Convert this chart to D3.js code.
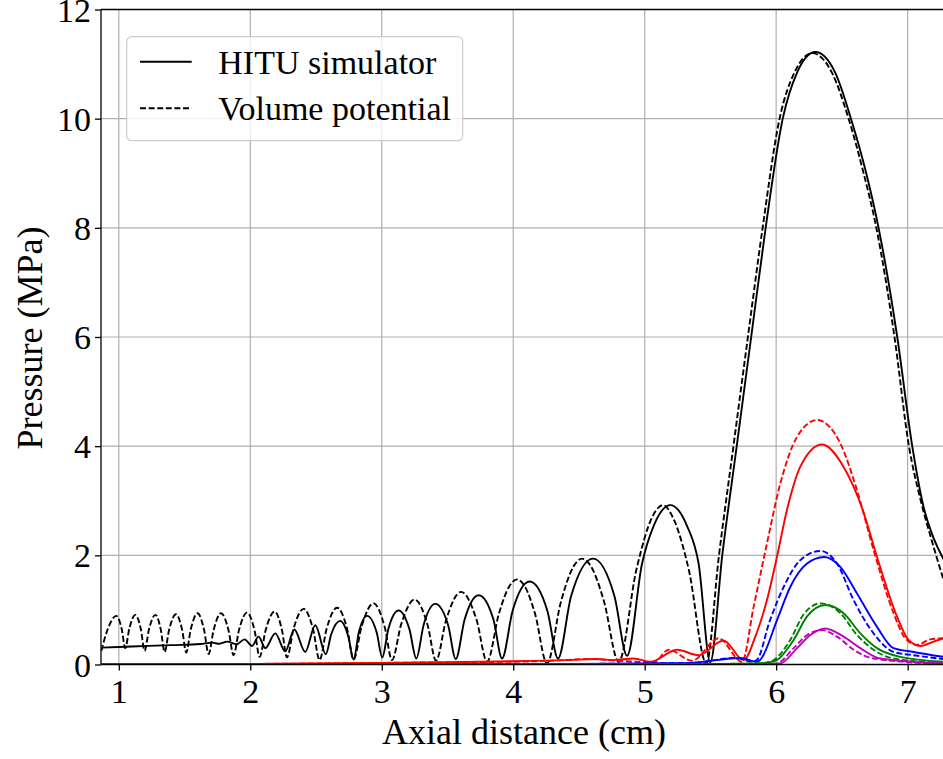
<!DOCTYPE html>
<html><head><meta charset="utf-8">
<script src="https://cdn.jsdelivr.net/npm/d3@7"></script>
<style>html,body{margin:0;padding:0;background:#fff;overflow:hidden}svg{display:block}</style>
</head><body>
<svg id="chart" width="943" height="759"></svg>
<script>
// ---- data (x in cm, y in MPa) ----
const xTicks = [1,2,3,4,5,6,7];
const yTicks = [0,2,4,6,8,10,12];
const legendLabels = ["HITU simulator","Volume potential"];

const blackSolidX = [0.867,1.10,1.40,1.62,1.711,1.764,1.825,1.894,1.957,2.013,2.063,2.114,2.190,2.266,2.335,2.418,2.494,2.575,
 2.615,2.684,2.745,2.786, 2.825,2.888,2.962,3.004, 3.05,3.128,3.21,3.263, 3.318,3.407,3.505,3.563, 3.63,3.737,3.85,3.915,
 3.995,4.125,4.26,4.341, 4.44,4.607,4.77,4.866, 4.98,5.07,5.195,5.32,5.41,5.499,
 5.59,5.70,5.81,5.92,6.05,6.16,6.298,6.45,6.569,6.68,6.779,6.921,7.035,7.12,7.2,7.28];
const blackSolidY = [0.31,0.33,0.355,0.375,0.40,0.38,0.42,0.37,0.46,0.34,0.51,0.30,0.57,0.24,0.64,0.23,0.72,0.19,
 0.55,0.80,0.52,0.09, 0.58,0.89,0.58,0.13, 0.65,0.99,0.65,0.11, 0.72,1.11,0.72,0.10, 0.82,1.27,0.82,0.11,
 0.98,1.52,0.98,0.11, 1.25,1.94,1.25,0.16, 1.85,2.55,2.92,2.55,1.85,0.04,
 2.0,4.0,6.0,8.0,10.0,10.85,11.22,10.84,10.0,9.05,8.0,6.0,4.0,2.9,2.3,1.9];

const blackDashX = [0.867,0.913,0.981,1.022,1.049,1.080,1.126,1.168,1.196,1.229,1.278,1.320,1.348,1.383,1.435,1.482,1.513,
 1.547,1.599,1.649,1.683,1.721,1.777,1.835,1.873,1.914,1.975,2.033,2.071,2.117,2.185,2.241,2.279,2.330,2.406,2.479,2.527,
 2.580,2.660,2.736,2.786,2.847,2.938,3.022,3.078,3.147,3.250,3.348,3.413,3.489,3.603,3.722,3.801,
 3.892,3.972,4.029,4.086,4.166,4.257,4.363,4.457,4.523,4.593,4.690,4.802,4.937,5.055,5.139,5.221,5.336,5.469,
 5.565,5.675,5.785,5.897,6.026,6.14,6.275,6.425,6.551,6.66,6.762,6.90,7.01,7.1,7.18,7.262,7.28];
const blackDashY = [0.25,0.63,0.89,0.65,0.30,0.66,0.91,0.64,0.25,0.64,0.91,0.63,0.23,0.64,0.92,0.63,0.22,
 0.64,0.94,0.63,0.19,0.63,0.94,0.62,0.17,0.63,0.95,0.62,0.14,0.63,0.97,0.63,0.13,0.66,1.02,0.63,0.08,
 0.65,1.04,0.66,0.09,0.70,1.12,0.69,0.08,0.73,1.19,0.73,0.07,0.81,1.33,0.81,0.05,
 0.94,1.44,1.56,1.44,0.93,0.02,1.15,1.79,1.94,1.79,1.16,0.05,1.74,2.69,2.92,2.66,1.73,0.02,
 2.0,4.0,6.0,8.0,10.0,10.85,11.2,10.84,10.0,9.05,8.0,6.0,4.0,3.0,2.3,1.64,1.5];

const redSolidX = [0.867,2.0,3.0,3.5,4.0,4.4,4.637,4.764,4.916,5.043,5.246,5.410,5.600,5.752,5.84,5.930,6.006,6.082,6.183,6.349,6.513,6.659,6.767,6.919,7.007,7.096,7.197,7.271];
const redSolidY = [0.0,0.01,0.03,0.04,0.06,0.08,0.10,0.08,0.11,0.05,0.27,0.17,0.44,0.08,0.50,1.18,1.97,2.83,3.62,4.03,3.62,2.83,1.97,0.88,0.45,0.34,0.42,0.48];
const redDashX = [0.867,2.0,3.0,3.5,4.0,4.3,4.586,4.80,5.068,5.182,5.360,5.562,5.740,5.829,5.930,6.032,6.159,6.311,6.488,6.615,6.741,6.893,6.982,7.071,7.172,7.271];
const redDashY = [0.0,0.01,0.03,0.04,0.05,0.07,0.10,0.07,0.04,0.27,0.07,0.48,0.05,1.06,2.22,3.32,4.17,4.48,4.05,3.19,2.10,0.94,0.48,0.36,0.46,0.48];

const blueSolidX = [0.867,4.0,5.0,5.347,5.727,5.855,5.877,6.006,6.107,6.235,6.366,6.488,6.615,6.767,6.893,7.045,7.271];
const blueSolidY = [0.0,0.005,0.02,0.03,0.12,0.05,0.08,0.81,1.42,1.85,1.97,1.79,1.30,0.69,0.30,0.23,0.14];
const blueDashX = [0.867,4.0,5.0,5.347,5.702,5.816,5.852,5.953,6.057,6.183,6.336,6.463,6.589,6.741,6.893,7.045,7.271];
const blueDashY = [0.0,0.005,0.02,0.03,0.12,0.05,0.08,0.81,1.42,1.91,2.08,1.85,1.18,0.57,0.23,0.17,0.10];

const greenSolidX = [0.867,5.0,5.85,5.95,6.006,6.133,6.235,6.374,6.513,6.640,6.767,6.944,7.271];
const greenSolidY = [0.0,0.0,0.02,0.04,0.08,0.45,0.88,1.09,0.94,0.57,0.30,0.14,0.05];
const greenDashX = [0.867,5.0,5.85,5.93,5.981,6.107,6.209,6.336,6.488,6.615,6.741,6.893,7.271];
const greenDashY = [0.0,0.0,0.02,0.04,0.08,0.45,0.92,1.12,0.94,0.54,0.27,0.11,0.03];

const magSolidX = [0.867,5.0,5.9,6.032,6.159,6.260,6.374,6.513,6.640,6.792,7.271];
const magSolidY = [0.0,0.0,0.005,0.02,0.30,0.54,0.66,0.51,0.30,0.11,0.02];
const magDashX = [0.867,5.0,5.9,6.006,6.133,6.235,6.349,6.463,6.589,6.741,7.271];
const magDashY = [0.0,0.0,0.005,0.02,0.30,0.54,0.63,0.51,0.27,0.11,0.01];

const seriesColors = ["#000000","#ff0000","#0000ff","#008000","#bf00bf"];

// ---- layout ----
const svg = d3.select("#chart");
const W = 943;
const mLeft = 101, mTop = 9.5, mBottom = 664.5;
const x = d3.scaleLinear().domain([0.8645, 7.35]).range([mLeft, mLeft + (7.35 - 0.8645) * 131.47]);
const y = d3.scaleLinear().domain([0, 12]).range([mBottom, mTop]);
const font = "'Liberation Serif','Times New Roman',serif";

// grid
const g = svg.append("g");
g.selectAll(".vg").data(xTicks).join("line")
  .attr("x1", d => x(d)).attr("x2", d => x(d)).attr("y1", mTop).attr("y2", mBottom)
  .attr("stroke", "#b0b0b0").attr("stroke-width", 1.2);
g.selectAll(".hg").data(yTicks).join("line")
  .attr("x1", mLeft).attr("x2", W).attr("y1", d => y(d)).attr("y2", d => y(d))
  .attr("stroke", "#b0b0b0").attr("stroke-width", 1.2);

// lines
svg.append("defs").append("clipPath").attr("id", "clip")
  .append("rect").attr("x", mLeft).attr("y", mTop).attr("width", W - mLeft).attr("height", mBottom - mTop);
const line = d3.line().x(d => x(d[0])).y(d => y(d[1])).curve(d3.curveMonotoneX);
const zip = (a, b) => a.map((v, i) => [v, b[i]]);
const series = [
  [blackSolidX, blackSolidY, 0, false], [blackDashX, blackDashY, 0, true],
  [redSolidX, redSolidY, 1, false], [redDashX, redDashY, 1, true],
  [blueSolidX, blueSolidY, 2, false], [blueDashX, blueDashY, 2, true],
  [greenSolidX, greenSolidY, 3, false], [greenDashX, greenDashY, 3, true],
  [magSolidX, magSolidY, 4, false], [magDashX, magDashY, 4, true]
];
const lg = svg.append("g").attr("clip-path", "url(#clip)");
series.forEach(([sx, sy, ci, dashed]) => {
  lg.append("path").attr("d", line(zip(sx, sy)))
    .attr("fill", "none").attr("stroke", seriesColors[ci]).attr("stroke-width", 1.9)
    .attr("stroke-linejoin", "round")
    .attr("stroke-dasharray", dashed ? "6,2.6" : null);
});

// axes
const xAxis = d3.axisBottom(x).tickValues(xTicks).tickSize(6).tickPadding(8).tickFormat(d3.format("d"));
const yAxis = d3.axisLeft(y).tickValues(yTicks).tickSize(6).tickPadding(8).tickFormat(d3.format("d"));
const gx = svg.append("g").attr("transform", `translate(0,${mBottom})`).call(xAxis);
const gy = svg.append("g").attr("transform", `translate(${mLeft},0)`).call(yAxis);
[gx, gy].forEach(a => {
  a.select(".domain").remove();
  a.selectAll("line").attr("stroke", "#000").attr("stroke-width", 1.3);
  a.selectAll("text").attr("font-family", font).attr("font-size", 34).attr("fill", "#000");
});
gx.selectAll("text").attr("dy", null).attr("y", 38);
gy.selectAll("text").attr("dy", "0.34em").attr("x", -10);

// spines
svg.append("line").attr("x1", mLeft).attr("x2", mLeft).attr("y1", mTop).attr("y2", mBottom).attr("stroke", "#000").attr("stroke-width", 1.3);
svg.append("line").attr("x1", mLeft).attr("x2", W).attr("y1", mBottom).attr("y2", mBottom).attr("stroke", "#000").attr("stroke-width", 1.3);
svg.append("line").attr("x1", mLeft).attr("x2", W).attr("y1", mTop).attr("y2", mTop).attr("stroke", "#000").attr("stroke-width", 1.3);

// axis labels
svg.append("text").attr("x", 524).attr("y", 744).attr("text-anchor", "middle")
  .attr("font-family", font).attr("font-size", 36).text("Axial distance (cm)");
svg.append("text").attr("transform", "translate(42,338) rotate(-90)").attr("text-anchor", "middle")
  .attr("font-family", font).attr("font-size", 36).text("Pressure (MPa)");

// legend
const leg = svg.append("g");
leg.append("rect").attr("x", 126.7).attr("y", 36.7).attr("width", 336).attr("height", 104).attr("rx", 5)
  .attr("fill", "#fff").attr("fill-opacity", 0.8).attr("stroke", "#cccccc").attr("stroke-width", 1.2);
[0, 1].forEach(i => {
  const yy = 61.7 + i * 46.6;
  leg.append("line").attr("x1", 140).attr("x2", 191.7).attr("y1", yy).attr("y2", yy)
    .attr("stroke", "#000").attr("stroke-width", 1.9).attr("stroke-dasharray", i ? "6,2.6" : null);
  leg.append("text").attr("x", 218.3).attr("y", yy + 12).attr("font-family", font).attr("font-size", 34)
    .text(legendLabels[i]);
});
</script>
</body></html>
